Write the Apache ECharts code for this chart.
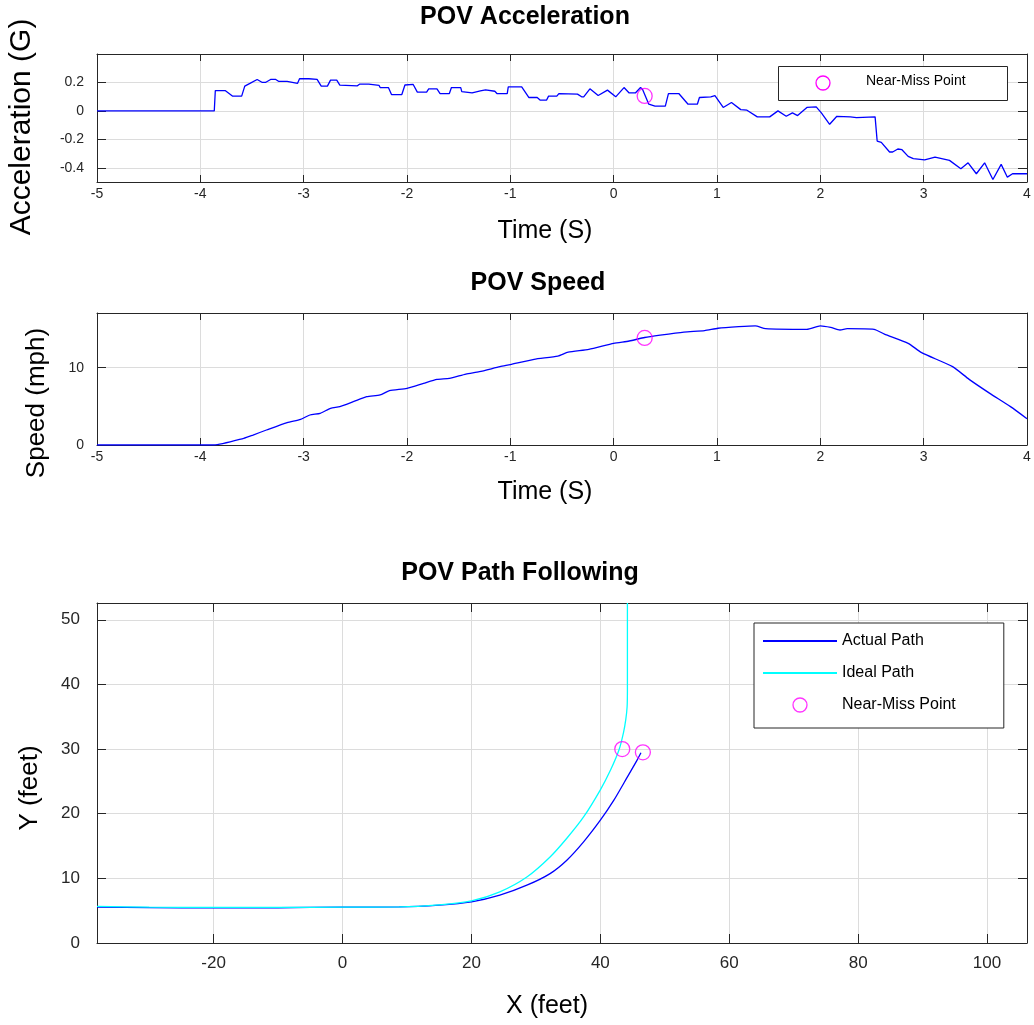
<!DOCTYPE html>
<html><head><meta charset="utf-8">
<script src="https://cdn.jsdelivr.net/npm/echarts@6/dist/echarts.min.js"></script>
<style>html,body{margin:0;padding:0;background:#fff}#c{width:1034px;height:1025px}</style>
</head><body><div id="c"></div>
<script>
// ---------- data ----------
const accTime = [-5, -3.865, -3.855, -3.76, -3.69, -3.60, -3.57, -3.52, -3.45, -3.40, -3.37, -3.32, -3.27, -3.24, -3.16, -3.15, -3.06, -3.04, -2.95, -2.94, -2.87, -2.83, -2.77, -2.74, -2.68, -2.65, -2.48, -2.46, -2.37, -2.36, -2.27, -2.26, -2.18, -2.15, -2.05, -2.02, -1.94, -1.90, -1.81, -1.79, -1.71, -1.68, -1.59, -1.57, -1.48, -1.47, -1.37, -1.29, -1.24, -1.15, -1.13, -1.03, -1.02, -0.89, -0.82, -0.74, -0.71, -0.65, -0.63, -0.55, -0.53, -0.35, -0.31, -0.29, -0.23, -0.15, -0.06, 0.02, 0.10, 0.15, 0.21, 0.26, 0.28, 0.34, 0.40, 0.50, 0.53, 0.63, 0.72, 0.81, 0.83, 0.94, 0.98, 1.06, 1.14, 1.23, 1.29, 1.39, 1.51, 1.59, 1.67, 1.73, 1.78, 1.87, 1.96, 2.01, 2.09, 2.16, 2.29, 2.35, 2.53, 2.55, 2.59, 2.67, 2.70, 2.75, 2.79, 2.85, 2.90, 3.01, 3.11, 3.25, 3.36, 3.43, 3.51, 3.59, 3.67, 3.75, 3.81, 3.86, 4.0];
const accValue = [0, 0, 0.143, 0.143, 0.104, 0.104, 0.174, 0.193, 0.221, 0.2, 0.2, 0.221, 0.221, 0.207, 0.207, 0.193, 0.193, 0.226, 0.226, 0.221, 0.221, 0.174, 0.174, 0.216, 0.216, 0.181, 0.176, 0.188, 0.188, 0.179, 0.179, 0.164, 0.164, 0.115, 0.115, 0.182, 0.186, 0.132, 0.132, 0.155, 0.155, 0.122, 0.122, 0.164, 0.164, 0.136, 0.126, 0.14, 0.148, 0.138, 0.122, 0.122, 0.169, 0.169, 0.094, 0.094, 0.075, 0.075, 0.104, 0.104, 0.122, 0.118, 0.099, 0.099, 0.155, 0.108, 0.146, 0.099, 0.164, 0.126, 0.126, 0.164, 0.150, 0.047, 0.033, 0.033, 0.122, 0.122, 0.047, 0.047, 0.094, 0.099, 0.108, 0.024, 0.059, 0.009, 0.005, -0.042, -0.042, 0, -0.038, -0.014, -0.033, 0.024, 0.028, -0.014, -0.094, -0.038, -0.042, -0.047, -0.042, -0.212, -0.221, -0.289, -0.289, -0.268, -0.273, -0.32, -0.336, -0.344, -0.325, -0.348, -0.407, -0.365, -0.442, -0.365, -0.482, -0.376, -0.466, -0.442, -0.442];
const accNearMissTime = [0.30];
const accNearMissValue = [0.105];

const speedTime = [-5, -3.87, -3.58, -3.49, -3.36, -3.16, -3.03, -2.94, -2.84, -2.74, -2.65, -2.52, -2.39, -2.26, -2.17, -2.0, -1.84, -1.71, -1.59, -1.43, -1.30, -1.10, -1.0, -0.77, -0.54, -0.44, -0.24, 0.0, 0.15, 0.30, 0.45, 0.68, 0.88, 1.01, 1.21, 1.37, 1.47, 1.87, 2.0, 2.10, 2.19, 2.26, 2.52, 2.62, 2.85, 2.98, 3.28, 3.44, 3.64, 3.84, 4.0];
const speedValue = [0, 0, 0.86, 1.29, 1.94, 2.9, 3.32, 3.88, 4.1, 4.74, 4.96, 5.6, 6.25, 6.47, 7.03, 7.33, 7.97, 8.49, 8.62, 9.18, 9.48, 10.13, 10.4, 11.08, 11.5, 12.0, 12.37, 13.15, 13.45, 13.9, 14.2, 14.6, 14.8, 15.1, 15.3, 15.4, 15.05, 14.96, 15.4, 15.2, 14.87, 15.04, 14.96, 14.35, 13.15, 11.94, 10.13, 8.49, 6.68, 4.96, 3.4];
const speedNearMissTime = [0.30];
const speedNearMissValue = [13.85];

const actualX = [-38.1, -30, -20, -10, 0, 8.8, 15, 20, 24.4, 28.6, 32.2, 34.8, 37.4, 40, 42.1, 44.2, 45.7, 46.3];
const actualY = [5.55, 5.48, 5.43, 5.45, 5.55, 5.58, 5.85, 6.35, 7.39, 8.94, 10.74, 12.81, 15.65, 19.0, 22.1, 25.7, 28.3, 29.44];
const idealX = [-38.1, -30, -20, -10, 0, 8.8, 15, 20, 24.4, 28.6, 32.2, 34.8, 37.4, 40, 41.6, 42.9, 43.6, 43.95, 44.15, 44.2, 44.2];
const idealY = [5.66, 5.55, 5.5, 5.5, 5.55, 5.58, 5.9, 6.5, 7.9, 10.2, 13.3, 16.2, 19.5, 23.7, 26.8, 29.9, 32.6, 34.6, 36.5, 39.0, 52.6];
const pathNearMissX = [46.6, 43.4];
const pathNearMissY = [29.5, 30.0];

const timeTicks = [-5, -4, -3, -2, -1, 0, 1, 2, 3, 4];
const accTicks = [-0.4, -0.2, 0, 0.2];
const speedTicks = [0, 10];
const pathXTicks = [-20, 0, 20, 40, 60, 80, 100];
const pathYTicks = [0, 10, 20, 30, 40, 50];

// ---------- chart ----------
const FONT = "'Liberation Sans', Arial, Helvetica, sans-serif";
const AX = '#262626', GRIDC = '#dcdcdc';
const zip = (a, b) => a.map((v, i) => [v, b[i]]);

function axis(gi, pos, min, max, ticks, opts) {
  const main = opts.main;
  return {
    type: 'value', gridIndex: gi, position: pos, min: min, max: max,
    axisLine: { show: true, onZero: false, lineStyle: { color: AX, width: 1 } },
    axisTick: { show: true, inside: true, length: opts.tick, customValues: ticks, lineStyle: { color: AX, width: 1 } },
    axisLabel: { show: main, customValues: ticks, color: AX, fontFamily: FONT, fontSize: opts.fs, margin: opts.margin },
    splitLine: { show: main, lineStyle: { color: GRIDC, width: 1 } }
  };
}

const grids = [
  { left: 97, top: 54, width: 930, height: 128 },
  { left: 97, top: 313, width: 930, height: 132 },
  { left: 97, top: 603, width: 930, height: 340 }
];

const xAxes = [
  axis(0, 'bottom', -5, 4, timeTicks, { main: true, tick: 7, fs: 14, margin: 5 }),
  axis(0, 'top', -5, 4, timeTicks, { main: false, tick: 7 }),
  axis(1, 'bottom', -5, 4, timeTicks, { main: true, tick: 7, fs: 14, margin: 5 }),
  axis(1, 'top', -5, 4, timeTicks, { main: false, tick: 7 }),
  axis(2, 'bottom', -38.1, 106.2, pathXTicks, { main: true, tick: 9, fs: 17, margin: 12 }),
  axis(2, 'top', -38.1, 106.2, pathXTicks, { main: false, tick: 9 })
];
const yAxes = [
  axis(0, 'left', -0.5, 0.4, accTicks, { main: true, tick: 9, fs: 14, margin: 13 }),
  axis(0, 'right', -0.5, 0.4, accTicks, { main: false, tick: 9 }),
  axis(1, 'left', 0, 17.07, speedTicks, { main: true, tick: 9, fs: 14, margin: 13 }),
  axis(1, 'right', 0, 17.07, speedTicks, { main: false, tick: 9 }),
  axis(2, 'left', 0, 52.6, pathYTicks, { main: true, tick: 9, fs: 17, margin: 17 }),
  axis(2, 'right', 0, 52.6, pathYTicks, { main: false, tick: 9 })
];

const circleStyle = { color: 'rgba(0,0,0,0)', borderColor: '#ff00ff', borderWidth: 1.3 };
const noSymbol = { color: 'rgba(0,0,0,0)', borderWidth: 0, opacity: 0 };
const nearMissLegendItem = { name: 'Near-Miss Point', icon: 'circle', itemStyle: circleStyle };

function txt(s, x, y, size, bold, rot) {
  return { type: 'text', x: x, y: y, rotation: rot || 0, silent: true,
    style: { text: s, fill: '#000', font: (bold ? 'bold ' : '') + size + 'px ' + FONT, textAlign: 'center', textVerticalAlign: 'middle' } };
}

const option = {
  animation: false,
  backgroundColor: '#fff',
  grid: grids,
  xAxis: xAxes,
  yAxis: yAxes,
  legend: [
    { data: [{ name: 'Actual Path', itemStyle: noSymbol }, { name: 'Ideal Path', itemStyle: noSymbol }, nearMissLegendItem],
      left: 754, top: 623, orient: 'vertical',
      itemWidth: 74, itemHeight: 14, itemGap: 16, padding: [10, 48, 15, 8], borderColor: AX, borderWidth: 1,
      backgroundColor: '#fff', selectedMode: false, textStyle: { fontFamily: FONT, fontSize: 16, color: '#000' } }
  ],
  series: [
    { name: 'Near-Miss Point', type: 'scatter', xAxisIndex: 0, yAxisIndex: 0, data: zip(accNearMissTime, accNearMissValue),
      symbol: 'circle', symbolSize: 15, symbolKeepAspect: true, itemStyle: circleStyle, z: 3 },
    { name: 'Acceleration', type: 'line', xAxisIndex: 0, yAxisIndex: 0, data: zip(accTime, accValue),
      showSymbol: false, symbol: 'none', lineStyle: { color: '#0000ff', width: 1.3 }, z: 2 },
    { name: 'Speed', type: 'line', xAxisIndex: 2, yAxisIndex: 2, data: zip(speedTime, speedValue),
      showSymbol: false, symbol: 'none', smooth: 0.2, lineStyle: { color: '#0000ff', width: 1.3 }, z: 2 },
    { name: 'Near-Miss Point', type: 'scatter', xAxisIndex: 2, yAxisIndex: 2, data: zip(speedNearMissTime, speedNearMissValue),
      symbol: 'circle', symbolSize: 15, symbolKeepAspect: true, itemStyle: circleStyle, z: 3 },
    { name: 'Actual Path', type: 'line', xAxisIndex: 4, yAxisIndex: 4, data: zip(actualX, actualY),
      showSymbol: false, symbol: 'none', smooth: 0.25, lineStyle: { color: '#0000ff', width: 1.3 }, itemStyle: { color: '#0000ff' }, z: 2 },
    { name: 'Ideal Path', type: 'line', xAxisIndex: 4, yAxisIndex: 4, data: zip(idealX, idealY),
      showSymbol: false, symbol: 'none', smooth: 0.25, lineStyle: { color: '#00ffff', width: 1.3 }, itemStyle: { color: '#00ffff' }, z: 2 },
    { name: 'Near-Miss Point', type: 'scatter', xAxisIndex: 4, yAxisIndex: 4, data: zip(pathNearMissX, pathNearMissY),
      symbol: 'circle', symbolSize: 15, symbolKeepAspect: true, itemStyle: circleStyle, z: 3 }
  ],
  graphic: [
    txt('POV Acceleration', 525, 17, 25, true),
    txt('POV Speed', 538, 283, 25, true),
    txt('POV Path Following', 520, 573, 25, true),
    txt('Time (S)', 545, 231, 25, false),
    txt('Time (S)', 545, 492, 25, false),
    txt('X (feet)', 547, 1006, 25, false),
    txt('Acceleration (G)', 22, 127, 30, false, Math.PI / 2),
    txt('Speed (mph)', 37, 403, 26, false, Math.PI / 2),
    txt('Y (feet)', 30, 788, 26, false, Math.PI / 2),
    // legend box of the acceleration panel
    { type: 'rect', z: 100, silent: true, shape: { x: 778.5, y: 66.5, width: 229, height: 34 }, style: { fill: '#fff', stroke: AX, lineWidth: 1 } },
    { type: 'circle', z: 101, silent: true, shape: { cx: 823, cy: 83, r: 7 }, style: { fill: 'none', stroke: '#ff00ff', lineWidth: 1.3 } },
    { type: 'text', z: 101, silent: true, x: 866, y: 81, style: { text: 'Near-Miss Point', fill: '#000', font: '14px ' + FONT, textAlign: 'left', textVerticalAlign: 'middle' } }
  ]
};

const chart = echarts.init(document.getElementById('c'));
chart.setOption(option);
</script>
</body></html>
